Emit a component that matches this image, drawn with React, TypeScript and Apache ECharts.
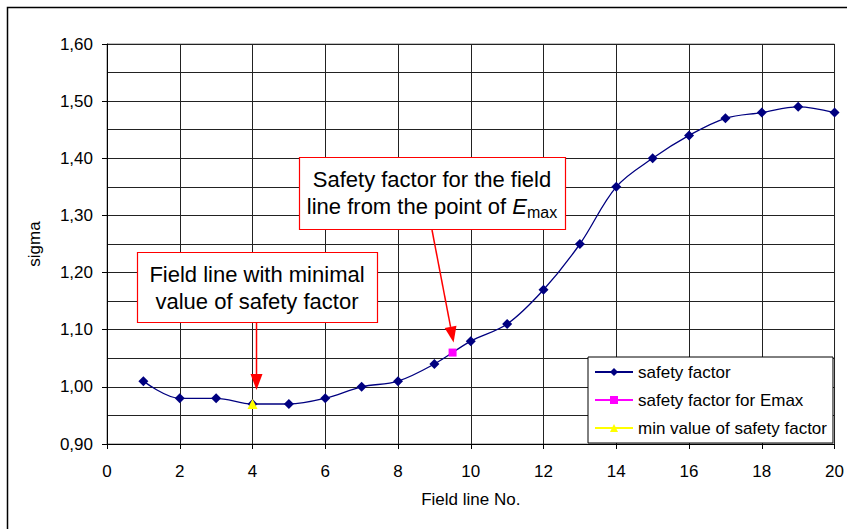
import React, { useEffect, useRef } from "react";
import * as echarts from "echarts";

const fieldLines = [1, 2, 3, 4, 5, 6, 7, 8, 9, 10, 11, 12, 13, 14, 15, 16, 17, 18, 19, 20];
const safetyFactor = [1.01, 0.98, 0.98, 0.97, 0.97, 0.98, 1.0, 1.01, 1.04, 1.08, 1.11, 1.17, 1.25, 1.35, 1.4, 1.44, 1.47, 1.48, 1.49, 1.48];
const emaxPoint = [9.5, 1.06];
const minPoint = [4, 0.97];
const seriesNames = ["safety factor", "safety factor for Emax", "min value of safety factor"];

const FONT = "Liberation Sans, Arial, sans-serif";

export default function App() {
  const ref = useRef<HTMLDivElement>(null);
  useEffect(() => {
    if (!ref.current) return;
    const chart = echarts.init(ref.current, undefined, { renderer: "svg" });
    const option: any = {
      animation: false,
      backgroundColor: "#fff",
      textStyle: { fontFamily: FONT },
      grid: {
        left: 107, top: 44, width: 729, height: 400,
        show: true, borderColor: "#808080", borderWidth: 1, backgroundColor: "transparent",
      },
      xAxis: {
        type: "value", min: 0, max: 20, interval: 2,
        name: "Field line No.", nameLocation: "middle", nameGap: 47,
        nameTextStyle: { color: "#000", fontSize: 17, fontFamily: FONT },
        axisLine: { show: true, onZero: false, lineStyle: { color: "#000", width: 1 } },
        axisTick: { show: true, length: 5, lineStyle: { color: "#000" } },
        axisLabel: { color: "#000", fontSize: 17, margin: 19, fontFamily: FONT },
        splitLine: { show: true, lineStyle: { color: "#222", width: 1 } },
      },
      yAxis: {
        type: "value", min: 0.9, max: 1.6, interval: 0.1,
        name: "sigma", nameLocation: "middle", nameGap: 64, nameRotate: 90,
        nameTextStyle: { color: "#000", fontSize: 17, fontFamily: FONT },
        axisLine: { show: true, lineStyle: { color: "#000", width: 1 } },
        axisTick: { show: true, length: 5, lineStyle: { color: "#000" } },
        axisLabel: {
          color: "#000", fontSize: 17, margin: 14, fontFamily: FONT,
          formatter: (v: number) => v.toFixed(2).replace(".", ","),
        },
        splitLine: { show: true, lineStyle: { color: "#222", width: 1 } },
        minorTick: { show: false, splitNumber: 2 },
        minorSplitLine: { show: true, lineStyle: { color: "#222", width: 1 } },
      },
      legend: {
        orient: "vertical", left: 588, top: 357,
        padding: [6, 6, 6, 6], itemGap: 10, itemWidth: 38, itemHeight: 10,
        backgroundColor: "#fff", borderColor: "#000", borderWidth: 1, borderRadius: 0,
        textStyle: { color: "#000", fontSize: 17, lineHeight: 18, fontFamily: FONT },
        data: seriesNames,
      },
      series: [
        {
          name: seriesNames[0], type: "line", smooth: 0.35,
          data: fieldLines.map((x, i) => [x, safetyFactor[i]]),
          symbol: "diamond", symbolSize: 10,
          lineStyle: { color: "#000080", width: 1.3 },
          itemStyle: { color: "#000080" }, z: 3,
        },
        {
          name: seriesNames[1], type: "line",
          data: [emaxPoint], symbol: "rect", symbolSize: 8,
          lineStyle: { color: "#ff00ff", width: 2 },
          itemStyle: { color: "#ff00ff" }, z: 4,
        },
        {
          name: seriesNames[2], type: "line",
          data: [minPoint], symbol: "triangle", symbolSize: 10,
          lineStyle: { color: "#ffff00", width: 2 },
          itemStyle: { color: "#ffff00" }, z: 4,
        },
      ],
    };
    chart.setOption(option);

    const p1 = chart.convertToPixel({ gridIndex: 0 }, minPoint) as number[];
    const p2 = chart.convertToPixel({ gridIndex: 0 }, emaxPoint) as number[];
    const red = "#ff0000";
    const arrow = (x0: number, y0: number, x1: number, y1: number) => {
      const dx = x1 - x0, dy = y1 - y0;
      const len = Math.sqrt(dx * dx + dy * dy);
      const ux = dx / len, uy = dy / len;
      const hl = 16, hw = 6;
      const bx = x1 - ux * hl, by = y1 - uy * hl;
      return [
        { type: "line", shape: { x1: x0, y1: y0, x2: bx, y2: by }, style: { stroke: red, lineWidth: 1.5 }, z: 10 },
        {
          type: "polygon",
          shape: { points: [[x1, y1], [bx - uy * hw, by + ux * hw], [bx + uy * hw, by - ux * hw]] },
          style: { fill: red }, z: 10,
        },
      ];
    };
    chart.setOption({
      graphic: [
        { type: "rect", shape: { x: 7.5, y: 7.5, width: 900, height: 600 }, style: { fill: "none", stroke: "#000", lineWidth: 1.5 }, z: 20, silent: true },
        { type: "rect", shape: { x: 137.5, y: 252.5, width: 240, height: 70 }, style: { fill: "#fff", stroke: red, lineWidth: 1.2 }, z: 10 },
        {
          type: "text", x: 257, y: 288, z: 11,
          style: {
            text: "Field line with minimal\nvalue of safety factor", fill: "#000",
            font: `22px ${FONT}`, lineHeight: 27, align: "center", verticalAlign: "middle",
          },
        },
        ...arrow(p1[0] + 4, 323, p1[0] + 4, p1[1] - 14),
        { type: "rect", shape: { x: 299.5, y: 157.5, width: 266, height: 72 }, style: { fill: "#fff", stroke: red, lineWidth: 1.2 }, z: 10 },
        {
          type: "text", x: 432, y: 193, z: 11,
          style: {
            text: "Safety factor for the field\nline from the point of {e|E}{m|max}", fill: "#000",
            font: `22px ${FONT}`, lineHeight: 27, align: "center", verticalAlign: "middle",
            rich: {
              e: { fontStyle: "italic", fontSize: 22, fontFamily: FONT, lineHeight: 27, fill: "#000" },
              m: { fontSize: 16, fontFamily: FONT, lineHeight: 27, verticalAlign: "bottom", fill: "#000" },
            },
          },
        },
        ...arrow(432, 230, p2[0] + 1, p2[1] - 10),
      ],
    });
    return () => chart.dispose();
  }, []);
  return <div ref={ref} style={{ width: 847, height: 529, position: "absolute", left: 0, top: 0 }} />;
}
